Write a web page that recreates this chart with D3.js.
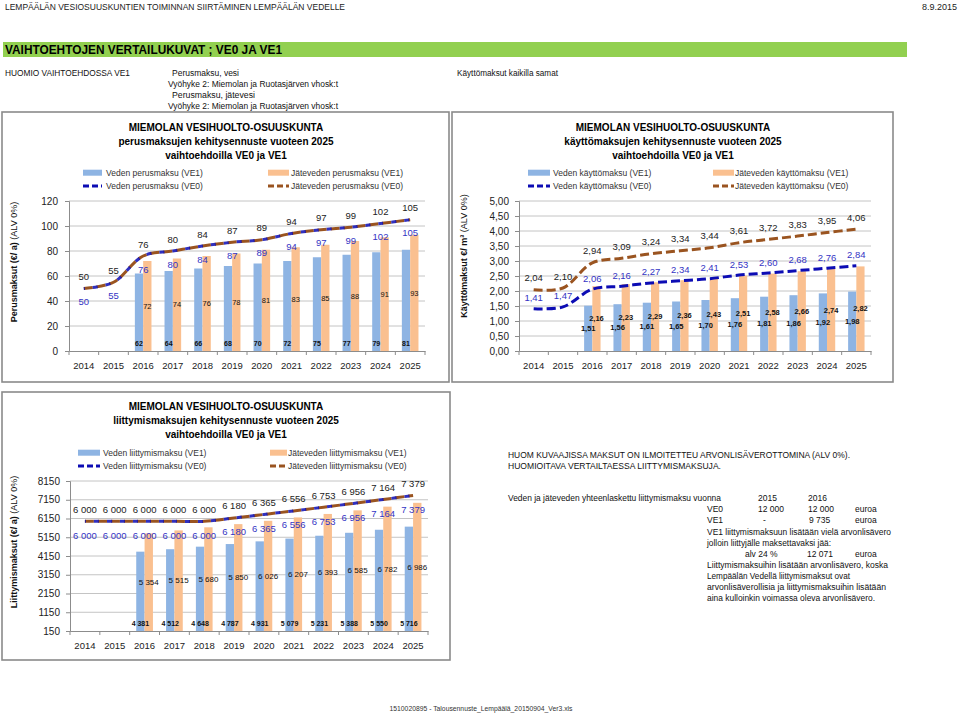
<!DOCTYPE html>
<html><head><meta charset="utf-8">
<script src="https://cdn.jsdelivr.net/npm/d3@7"></script>
<style>body{margin:0;background:#fff} text{font-family:"Liberation Sans",Arial,sans-serif}</style>
</head><body><svg id="c" width="960" height="715"></svg>
<script>
// ---------- data ----------
const years = [2014,2015,2016,2017,2018,2019,2020,2021,2022,2023,2024,2025];

// chart 1: perusmaksut
const perusVesiVE1 = [null,null,62,64,66,68,70,72,75,77,79,81];
const perusJateVE1 = [null,null,72,74,76,78,81,83,85,88,91,93];
const perusVesiVE0 = [50,55,76,80,84,87,89,94,97,99,102,105];
const perusJateVE0 = [50,55,76,80,84,87,89,94,97,99,102,105];
const perusTicks = [0,20,40,60,80,100,120];

// chart 2: käyttömaksut
const kayttoVesiVE1 = [null,null,1.51,1.56,1.61,1.65,1.70,1.76,1.81,1.86,1.92,1.98];
const kayttoJateVE1 = [null,null,2.16,2.23,2.29,2.36,2.43,2.51,2.58,2.66,2.74,2.82];
const kayttoVesiVE0 = [1.41,1.47,2.06,2.16,2.27,2.34,2.41,2.53,2.60,2.68,2.76,2.84];
const kayttoJateVE0 = [2.04,2.10,2.94,3.09,3.24,3.34,3.44,3.61,3.72,3.83,3.95,4.06];
const kayttoTicks = [0,0.5,1,1.5,2,2.5,3,3.5,4,4.5,5];

// chart 3: liittymismaksut
const liitVesiVE1 = [null,null,4381,4512,4648,4787,4931,5079,5231,5388,5550,5716];
const liitJateVE1 = [null,null,5354,5515,5680,5850,6026,6207,6393,6585,6782,6986];
const liitVesiVE0 = [6000,6000,6000,6000,6000,6180,6365,6556,6753,6956,7164,7379];
const liitJateVE0 = [6000,6000,6000,6000,6000,6180,6365,6556,6753,6956,7164,7379];
const liitTicks = [150,1150,2150,3150,4150,5150,6150,7150,8150];

// ---------- styles ----------
const C = {barBlue:"#8EB4E3", barOrange:"#FAC090", lineBlue:"#0C0CB4", lineBrown:"#9A5420", lblBlue:"#3434C4", grid:"#c4c4c4", axis:"#8c8c8c"};
const fi = d3.formatLocale({decimal:",", thousands:" ", grouping:[3], currency:["","€"]});
const fInt = d3.format("d");
const f2 = fi.format(".2f");
const fTh = fi.format(",d");

const svg = d3.select("#c");

function txt(g, x, y, s, o={}) {
  const t = g.append("text").attr("x",x).attr("y",y).text(s)
    .attr("font-size", o.size||9).attr("fill", o.fill||"#111")
    .attr("font-weight", o.weight||"normal").attr("text-anchor", o.anchor||"start");
  if (o.len) t.attr("textLength", o.len).attr("lengthAdjust","spacingAndGlyphs");
  return t;
}

function chart(c) {
  const g = svg.append("g");
  g.append("rect").attr("x",c.panel[0]).attr("y",c.panel[1]).attr("width",c.panel[2]).attr("height",c.panel[3])
    .attr("fill","#fff").attr("stroke","#8a8a8a").attr("stroke-width",1.6);
  c.title.forEach((s,i)=> txt(g, c.tcx, c.ty + i*14, s, {size:10, weight:"bold", anchor:"middle", fill:"#000"}));

  const x = d3.scaleBand().domain(years).range([c.x0, c.x1]);
  const y = d3.scaleLinear().domain(c.domain).range([c.yb, c.yt]);
  const bw = x.bandwidth();

  // gridlines
  g.append("g").selectAll("line").data(c.ticks.filter(t=>t!==c.domain[0])).enter().append("line")
    .attr("x1",c.x0).attr("x2",c.x1).attr("y1",d=>y(d)).attr("y2",d=>y(d))
    .attr("stroke",C.grid).attr("stroke-width",1);

  // y axis
  const ya = g.append("g").attr("transform",`translate(${c.x0},0)`)
    .call(d3.axisLeft(y).tickValues(c.ticks).tickFormat(c.fmt).tickSize(4).tickPadding(c.tickPad||6));
  ya.select(".domain").attr("stroke",C.axis);
  ya.selectAll(".tick line").attr("stroke",C.axis);
  ya.selectAll(".tick text").attr("font-size",10).attr("fill","#222");

  // x axis
  const xa = g.append("g").attr("transform",`translate(0,${c.yb})`)
    .call(d3.axisBottom(x).tickSize(0).tickPadding(11));
  xa.select(".domain").attr("stroke",C.axis);
  xa.selectAll(".tick text").attr("font-size",9.5).attr("fill","#222");
  const bounds = years.map(v=>x(v)).concat([c.x1]);
  xa.selectAll("line.b").data(bounds).enter().append("line").attr("class","b")
    .attr("x1",d=>d).attr("x2",d=>d).attr("y1",0).attr("y2",4).attr("stroke",C.axis);

  // bars
  const barSeries = [{vals:c.bar1, color:C.barBlue, off:0.22}, {vals:c.bar2, color:C.barOrange, off:0.50}];
  barSeries.forEach(s=>{
    const d = years.map((yr,i)=>({yr, v:s.vals[i]})).filter(d=>d.v!=null);
    g.append("g").selectAll("rect").data(d).enter().append("rect")
      .attr("x",d=>x(d.yr)+bw*s.off).attr("width",bw*0.28)
      .attr("y",d=>y(d.v)).attr("height",d=>c.yb-y(d.v)).attr("fill",s.color);
  });

  // lines
  const line = d3.line().x(d=>x(d.yr)+bw/2).y(d=>y(d.v)).curve(d3.curveCatmullRom.alpha(0.5));
  const pts = vals => years.map((yr,i)=>({yr, v:vals[i]}));
  g.append("path").attr("d", line(pts(c.lineBrown))).attr("fill","none").attr("stroke",C.lineBrown)
    .attr("stroke-width",3).attr("stroke-dasharray","9,4");
  g.append("path").attr("d", line(pts(c.lineBlue))).attr("fill","none").attr("stroke",C.lineBlue)
    .attr("stroke-width",3).attr("stroke-dasharray", c.overlap ? "5,8" : "9,4")
    .attr("stroke-dashoffset", c.overlap ? -9 : 0).attr("opacity", c.overlap ? 0.85 : 1);

  // line labels
  const lf = c.lineFmt;
  pts(c.lineBrown).forEach(d=> txt(g, x(d.yr)+bw/2, y(d.v)+c.brownOff+3.5, lf(d.v), {size:9.5, anchor:"middle", fill:"#222"}));
  pts(c.lineBlue).forEach(d=> txt(g, x(d.yr)+bw/2, y(d.v)+c.blueOff+3.5, lf(d.v), {size:9.5, anchor:"middle", fill:C.lblBlue}));

  // bar labels
  years.forEach((yr,i)=>{
    const v1 = c.bar1[i], v2 = c.bar2[i];
    if (v1!=null) {
      const yy = c.bar1Pos==="base" ? c.yb-8 : (y(v1)+c.yb)/2;
      txt(g, x(yr)+bw*0.36, yy+2.5, lf(v1), {size:c.bar1Size, weight:"bold", anchor:"middle", fill:"#111"});
    }
    if (v2!=null) {
      const yy = (y(v2)+c.yb)/2;
      txt(g, x(yr)+bw*0.64, yy+2.7, lf(v2), {size:c.bar2Size, weight:c.bar2Weight, anchor:"middle", fill:"#111"});
    }
  });

  // y title
  const t = g.append("text").attr("transform",`translate(${c.yt_.x},${c.yt_.y}) rotate(-90)`)
    .attr("text-anchor","middle").attr("font-size",9).attr("fill","#111");
  t.append("tspan").attr("font-weight","bold").text(c.yt_.bold);
  t.append("tspan").text(c.yt_.normal);

  // legend
  const L = c.legend;
  const items = [
    {type:"bar", color:C.barBlue, sw:L.left, tx:L.leftTx, y:L.rows[0], label:L.labels[0]},
    {type:"line", color:C.lineBlue, sw:L.left, tx:L.leftTx, y:L.rows[1], label:L.labels[1]},
    {type:"bar", color:C.barOrange, sw:L.right, tx:L.rightTx, y:L.rows[0], label:L.labels[2]},
    {type:"line", color:C.lineBrown, sw:L.right, tx:L.rightTx, y:L.rows[1], label:L.labels[3]}
  ];
  items.forEach(it=>{
    if (it.type==="bar") g.append("rect").attr("x",it.sw[0]).attr("y",it.y-3).attr("width",it.sw[1]-it.sw[0]).attr("height",6).attr("fill",it.color);
    else g.append("line").attr("x1",it.sw[0]).attr("x2",it.sw[1]).attr("y1",it.y).attr("y2",it.y)
      .attr("stroke",it.color).attr("stroke-width",3).attr("stroke-dasharray","6,3");
    txt(g, it.tx, it.y+3, it.label, {size:8.5, fill:"#333"});
  });
}

chart({
  panel:[2,112,447,270], tcx:226, ty:131,
  title:["MIEMOLAN VESIHUOLTO-OSUUSKUNTA","perusmaksujen kehitysennuste vuoteen 2025","vaihtoehdoilla VE0 ja VE1"],
  x0:69, x1:425, yt:201, yb:351, domain:[0,120], ticks:perusTicks, fmt:fInt, tickPad:7,
  bar1:perusVesiVE1, bar2:perusJateVE1, lineBlue:perusVesiVE0, lineBrown:perusJateVE0, overlap:true,
  lineFmt:fInt, brownOff:-12, blueOff:13, bar1Pos:"base", bar1Size:7, bar2Size:7.5, bar2Weight:"normal",
  yt_:{x:17, y:262, bold:"Perusmaksut (€/ a)", normal:" (ALV 0%)"},
  legend:{rows:[172.7,186], left:[83,102], leftTx:106, right:[268,289], rightTx:291,
    labels:["Veden perusmaksu (VE1)","Veden perusmaksu (VE0)","Jäteveden perusmaksu (VE1)","Jäteveden perusmaksu (VE0)"]}
});

chart({
  panel:[452,112,441,270], tcx:673, ty:131,
  title:["MIEMOLAN VESIHUOLTO-OSUUSKUNTA","käyttömaksujen kehitysennuste vuoteen 2025","vaihtoehdoilla VE0 ja VE1"],
  x0:519, x1:871, yt:201, yb:351, domain:[0,5], ticks:kayttoTicks, fmt:f2, tickPad:6,
  bar1:kayttoVesiVE1, bar2:kayttoJateVE1, lineBlue:kayttoVesiVE0, lineBrown:kayttoJateVE0, overlap:false,
  lineFmt:f2, brownOff:-12, blueOff:-11, bar1Pos:"mid", bar1Size:7.5, bar2Size:7.5, bar2Weight:"bold",
  yt_:{x:467, y:256, bold:"Käyttömaksut €/ m³", normal:" (ALV 0%)"},
  legend:{rows:[172.7,186], left:[528,550], leftTx:553, right:[713,734], rightTx:735,
    labels:["Veden käyttömaksu (VE1)","Veden käyttömaksu (VE0)","Jäteveden käyttömaksu (VE1)","Jäteveden käyttömaksu (VE0)"]}
});

chart({
  panel:[2,392,448,268], tcx:226, ty:409.5,
  title:["MIEMOLAN VESIHUOLTO-OSUUSKUNTA","liittymismaksujen kehitysennuste vuoteen 2025","vaihtoehdoilla VE0 ja VE1"],
  x0:70, x1:428, yt:481, yb:631, domain:[150,8150], ticks:liitTicks, fmt:fInt, tickPad:6,
  bar1:liitVesiVE1, bar2:liitJateVE1, lineBlue:liitVesiVE0, lineBrown:liitJateVE0, overlap:true,
  lineFmt:fTh, brownOff:-12, blueOff:14, bar1Pos:"base", bar1Size:7, bar2Size:8, bar2Weight:"normal",
  yt_:{x:17, y:542, bold:"Liittymismaksut (€/ a)", normal:" (ALV 0%)"},
  legend:{rows:[452.7,466], left:[78,100], leftTx:103, right:[270,287], rightTx:288,
    labels:["Veden liittymismaksu (VE1)","Veden liittymismaksu (VE0)","Jäteveden liittymismaksu (VE1)","Jäteveden liittymismaksu (VE0)"]}
});

// ---------- page texts ----------
const p = svg.append("g");
txt(p, 5, 10, "LEMPÄÄLÄN VESIOSUUSKUNTIEN TOIMINNAN SIIRTÄMINEN LEMPÄÄLÄN VEDELLE", {size:9, len:340, fill:"#222"});
txt(p, 957, 10, "8.9.2015", {size:9, anchor:"end", fill:"#222"});
p.append("rect").attr("x",3).attr("y",42).attr("width",904).attr("height",15).attr("fill","#92D050");
txt(p, 5, 54, "VAIHTOEHTOJEN VERTAILUKUVAT ; VE0 JA VE1", {size:12, weight:"bold", len:277, fill:"#000"});
txt(p, 5, 75.5, "HUOMIO VAIHTOEHDOSSA VE1", {size:8.5, len:125});
txt(p, 172, 75.5, "Perusmaksu, vesi", {size:8.5, len:67});
txt(p, 168, 86.5, "Vyöhyke 2: Miemolan ja Ruotasjärven vhosk:t", {size:8.5, len:170});
txt(p, 172, 97.5, "Perusmaksu, jätevesi", {size:8.5, len:83});
txt(p, 168, 108.5, "Vyöhyke 2: Miemolan ja Ruotasjärven vhosk:t", {size:8.5, len:170});
txt(p, 457, 75.5, "Käyttömaksut kaikilla samat", {size:8.5, len:101});

txt(p, 508, 458, "HUOM KUVAAJISSA MAKSUT ON ILMOITETTEU ARVONLISÄVEROTTOMINA (ALV 0%).", {size:8.5, len:342});
txt(p, 508, 469, "HUOMIOITAVA VERTAILTAESSA LIITTYMISMAKSUJA.", {size:8.5, len:213});
txt(p, 508, 500.5, "Veden ja jäteveden yhteenlaskettu liittymismaksu vuonna", {size:8.5, len:213});
txt(p, 758, 500.5, "2015", {size:8.5});
txt(p, 808, 500.5, "2016", {size:8.5});
txt(p, 707, 512, "VE0", {size:8.5});
txt(p, 758, 512, "12 000", {size:8.5});
txt(p, 808, 512, "12 000", {size:8.5});
txt(p, 855, 512, "euroa", {size:8.5});
txt(p, 707, 523, "VE1", {size:8.5});
txt(p, 763, 523, "-", {size:8.5});
txt(p, 809, 523, "9 735", {size:8.5});
txt(p, 855, 523, "euroa", {size:8.5});
txt(p, 707, 534.5, "VE1 liittymismaksuun lisätään vielä arvonlisävero", {size:8.5, len:184});
txt(p, 707, 545.5, "jolloin liittyjälle maksettavaksi jää:", {size:8.5, len:124});
txt(p, 745, 556.5, "alv 24 %", {size:8.5});
txt(p, 807, 556.5, "12 071", {size:8.5});
txt(p, 855, 556.5, "euroa", {size:8.5});
txt(p, 707, 567.5, "Liittymismaksuihin lisätään arvonlisävero, koska", {size:8.5, len:181});
txt(p, 707, 578.5, "Lempäälän Vedellä liittymismaksut ovat", {size:8.5, len:143});
txt(p, 707, 589.5, "arvonlisäverollisia ja liittymismaksuihin lisätään", {size:8.5, len:179});
txt(p, 707, 600.5, "aina kulloinkin voimassa oleva arvonlisävero.", {size:8.5, len:168});

txt(p, 481, 711, "1510020895 - Talousennuste_Lempäälä_20150904_Ver3.xls", {size:7, anchor:"middle", len:183, fill:"#333"});
</script></body></html>
